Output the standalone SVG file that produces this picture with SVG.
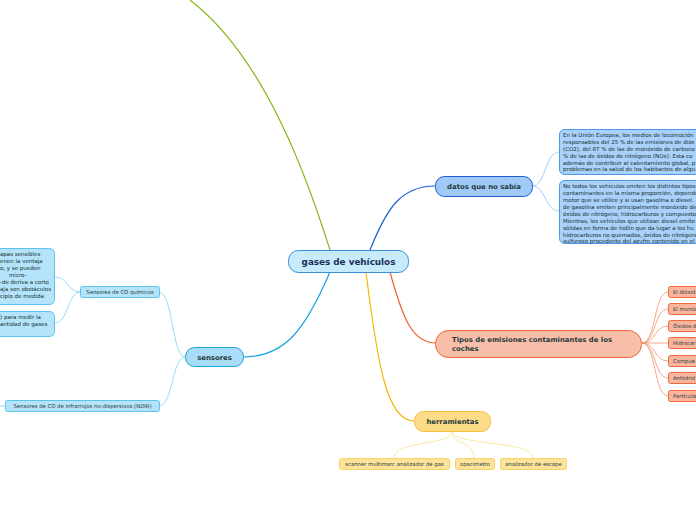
<svg xmlns="http://www.w3.org/2000/svg" width="696" height="520" viewBox="0 0 696 520">
<style>
text{font-family:"DejaVu Sans","Liberation Sans",sans-serif;fill:#1e3a3a}
.nb{font-weight:bold;font-size:6.9px}
.sm{font-size:5.3px}
.tx{font-size:5.5px;fill:#16302f}
.c{fill:none;stroke-width:1.2}
.sc{fill:none;stroke-width:0.8}
</style>
<rect width="696" height="520" fill="#ffffff"/>
<g id="connectors">
<path class="c" d="M330,250 C311,190 268,60 190,0" stroke="#84b817"/>
<path class="c" d="M370,250 C386,210 400,186 435,186" stroke="#1a5fd0"/>
<path class="c" d="M330,272 C305,330 285,357 243,357" stroke="#1aa0e0"/>
<path class="c" d="M390,272 C403,320 413,343 436,343" stroke="#f06030"/>
<path class="c" d="M366,272 C378,370 388,421 414,421" stroke="#f5b800"/>
<path class="sc" d="M532,186 C546,186 545,152 559,152" stroke="#8cc4f0"/>
<path class="sc" d="M532,186 C546,186 545,211 559,211" stroke="#8cc4f0"/>
<g stroke="#f5906a">
<path class="sc" d="M642,343 C656,343 654,292 668,292"/>
<path class="sc" d="M642,343 C656,343 654,309 668,309"/>
<path class="sc" d="M642,343 C656,343 654,326 668,326"/>
<path class="sc" d="M642,343 L668,343"/>
<path class="sc" d="M642,343 C656,343 654,361 668,361"/>
<path class="sc" d="M642,343 C656,343 654,378 668,378"/>
<path class="sc" d="M642,343 C656,343 654,396 668,396"/>
</g>
<g stroke="#fde08a">
<path class="sc" d="M452,431 C452,446 394,440 394,458"/>
<path class="sc" d="M452,431 C452,446 474,440 474,458"/>
<path class="sc" d="M452,431 C452,446 533,440 533,458"/>
</g>
<g stroke="#7fd0f0">
<path class="sc" d="M185,357 C172,357 173,292 159,292"/>
<path class="sc" d="M185,357 C172,357 173,406 159,406"/>
<path class="sc" d="M80,292 C68,292 68,277 55,277"/>
<path class="sc" d="M80,292 C68,292 68,323 55,323"/>
<path class="sc" d="M5,406 L0,406"/>
</g>
</g>
<g id="central">
<rect x="288.5" y="250.5" width="120" height="22" rx="10" fill="#c8ebfb" stroke="#3a8fd6"/>
<text x="348.5" y="264.8" text-anchor="middle" font-weight="bold" font-size="8.8" style="fill:#1b2f5a">gases de vehículos</text>
</g>
<g id="datos">
<rect x="435.5" y="176.5" width="97" height="20" rx="9" fill="#a0c9f8" stroke="#1a5fd0"/>
<text class="nb" x="484" y="188.8" text-anchor="middle">datos que no sabía</text>
</g>
<g id="datos1">
<rect x="559.5" y="129.5" width="200" height="45" rx="5" fill="#a9d1fa" stroke="#4a98e8"/>
<text class="tx" x="563" y="137">En la Unión Europea, los medios de locomoción</text>
<text class="tx" x="563" y="144">responsables del 25 % de las emisiones de dióx</text>
<text class="tx" x="563" y="151">(CO2), del 87 % de las de monóxido de carbono</text>
<text class="tx" x="563" y="158">% de las de óxidos de nitrógeno (NOx). Esta co</text>
<text class="tx" x="563" y="165">además de contribuir al calentamiento global, p</text>
<text class="tx" x="563" y="171">problemas en la salud de los habitantes de algu</text>
</g>
<g id="datos2">
<rect x="559.5" y="180.5" width="200" height="63" rx="5" fill="#a9d1fa" stroke="#4a98e8"/>
<text class="tx" x="563" y="188">No todos los vehículos emiten los distintos tipos</text>
<text class="tx" x="563" y="195">contaminantes en la misma proporción, depende</text>
<text class="tx" x="563" y="202">motor que se utilice y si usan gasolina o diesel.</text>
<text class="tx" x="563" y="209">de gasolina emiten principalmente monóxido de</text>
<text class="tx" x="563" y="216">óxidos de nitrógeno, hidrocarburos y compuesto</text>
<text class="tx" x="563" y="223">Mientras, los vehículos que utilizan diesel emite</text>
<text class="tx" x="563" y="230">sólidas en forma de hollín que da lugar a los hu</text>
<text class="tx" x="563" y="237">hidrocarburos no quemados, óxidos de nitrógeno</text>
<text class="tx" x="563" y="243">sulfuroso procedente del azufre contenido en el</text>
</g>
<g id="tipos">
<rect x="435.5" y="330.5" width="206" height="27" rx="13" fill="#f9bea9" stroke="#f0643a"/>
<text class="nb" x="452" y="342">Tipos de emisiones contaminantes de los</text>
<text class="nb" x="452" y="351">coches</text>
</g>
<g id="t1"><rect x="668.5" y="286.5" width="60" height="11" rx="2" fill="#f9b59d" stroke="#f06a40"/><text class="sm" x="673" y="294">El dióxid</text></g>
<g id="t2"><rect x="668.5" y="303.5" width="60" height="11" rx="2" fill="#f9b59d" stroke="#f06a40"/><text class="sm" x="673" y="311">El monóx</text></g>
<g id="t3"><rect x="668.5" y="320.5" width="60" height="11" rx="2" fill="#f9b59d" stroke="#f06a40"/><text class="sm" x="673" y="328">Óxidos d</text></g>
<g id="t4"><rect x="668.5" y="337.5" width="60" height="11" rx="2" fill="#f9b59d" stroke="#f06a40"/><text class="sm" x="673" y="345">Hidrocar</text></g>
<g id="t5"><rect x="668.5" y="355.5" width="60" height="11" rx="2" fill="#f9b59d" stroke="#f06a40"/><text class="sm" x="673" y="363">Compue</text></g>
<g id="t6"><rect x="668.5" y="372.5" width="60" height="11" rx="2" fill="#f9b59d" stroke="#f06a40"/><text class="sm" x="673" y="380">Anhídrid</text></g>
<g id="t7"><rect x="668.5" y="390.5" width="60" height="11" rx="2" fill="#f9b59d" stroke="#f06a40"/><text class="sm" x="673" y="398">Partícula</text></g>
<g id="herramientas">
<rect x="414.5" y="411.5" width="76" height="20" rx="9" fill="#fddc88" stroke="#f5c040"/>
<text class="nb" x="452.5" y="424" text-anchor="middle">herramientas</text>
</g>
<g id="h1"><rect x="339.5" y="458.5" width="110" height="11" rx="2" fill="#fde49a" stroke="#f7d26a"/><text class="sm" x="394.5" y="466" text-anchor="middle">scanner multimarc analizador de gas</text></g>
<g id="h2"><rect x="455.5" y="458.5" width="39" height="11" rx="2" fill="#fde49a" stroke="#f7d26a"/><text class="sm" x="475" y="466" text-anchor="middle">opacimetro</text></g>
<g id="h3"><rect x="500.5" y="458.5" width="66" height="11" rx="2" fill="#fde49a" stroke="#f7d26a"/><text class="sm" x="533.5" y="466" text-anchor="middle">analizador de escape</text></g>
<g id="sensores">
<rect x="185.5" y="347.5" width="58" height="19" rx="9" fill="#a9ddf7" stroke="#1ea2dc"/>
<text class="nb" x="214.5" y="359.5" text-anchor="middle">sensores</text>
</g>
<g id="s1"><rect x="80.5" y="286.5" width="79" height="11" rx="2" fill="#b4e3fa" stroke="#5fc3ef"/><text class="sm" x="120" y="294" text-anchor="middle">Sensores de CO químicos</text></g>
<g id="s2"><rect x="5.5" y="400.5" width="154" height="11" rx="2" fill="#b4e3fa" stroke="#5fc3ef"/><text class="sm" x="82.5" y="408" text-anchor="middle">Sensores de CO de infrarrojos no-dispersivos (NDIR)</text></g>
<g id="s1a">
<rect x="-100.5" y="248.5" width="155" height="56" rx="5" fill="#b4e3fa" stroke="#5fc3ef"/>
<text class="tx" x="0" y="256">apas sensibles</text>
<text class="tx" x="0" y="263">enen la ventaja</text>
<text class="tx" x="0" y="270">o, y se pueden</text>
<text class="tx" x="9" y="277">micro-</text>
<text class="tx" x="0" y="284">-de deriva a corto</text>
<text class="tx" x="0" y="291">aja son obstáculos</text>
<text class="tx" x="0" y="298">cipio de medida</text>
</g>
<g id="s1b">
<rect x="-100.5" y="311.5" width="155" height="25" rx="5" fill="#b4e3fa" stroke="#5fc3ef"/>
<text class="tx" x="0" y="319">) para medir la</text>
<text class="tx" x="0" y="326">antidad de gases</text>
</g>
</svg>
